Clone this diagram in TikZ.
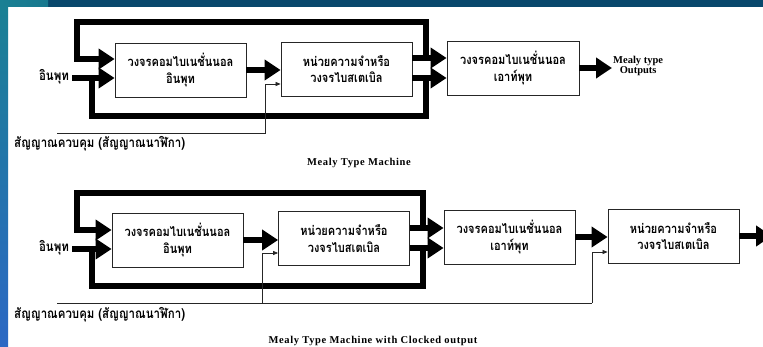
\documentclass[tikz,border=0pt]{standalone}
\usepackage{fontspec}
\setmainfont{Liberation Serif}
\newfontfamily\thaifont[Script=Thai,FakeStretch=0.85]{Loma}
\newfontfamily\capfont[LetterSpace=6]{Liberation Serif}
\usetikzlibrary{arrows.meta,calc}
\definecolor{barnavy}{RGB}{8,72,108}
\definecolor{barteal}{RGB}{26,128,148}
\definecolor{stripeblue}{RGB}{44,104,196}
\tikzset{
  block/.style={draw=black!85, line width=0.8pt, fill=white,
    minimum width=131pt, minimum height=54pt, inner sep=0pt, align=center,
    font=\thaifont\bfseries\fontsize{13}{16.5}\selectfont},
  busline/.style={line width=6pt, line join=miter},
  bus/.style={busline, -{Triangle[length=16pt,width=20pt]}},
  clk/.style={line width=0.7pt, draw=black!85},
  clkarrow/.style={clk, -{Triangle[length=5pt,width=4pt]}},
  thailabel/.style={font=\thaifont\bfseries\fontsize{13.5}{14}\selectfont, inner sep=0pt},
  caption/.style={font=\capfont\bfseries\fontsize{10.5}{11}\selectfont, inner sep=0pt, align=center},
  outlabel/.style={font=\bfseries\fontsize{10.5}{10.5}\selectfont, inner sep=0pt, align=center},
}
\begin{document}
\begin{tikzpicture}[x=1pt,y=-1pt]
\clip (0,0) rectangle (763,347);
% page background with the header bar and the side stripe
\fill[white] (0,0) rectangle (763,347);
\shade[top color=barteal, bottom color=stripeblue] (0,7) rectangle (8,347);
\fill[barnavy] (0,0) rectangle (763,7);
\shade[left color=barteal, right color=barteal!85!barnavy] (0,0) rectangle (48,7);

% ---------------- Mealy machine ----------------
\node[block] (ci) at (180.5,70) {วงจรคอมไบเนชั่นนอล\\อินพุท};
\node[block] (mem) at (346.5,69) {หน่วยความจำหรือ\\วงจรไบสเตเบิล};
\node[block, minimum width=132pt] (co) at (513,68) {วงจรคอมไบเนชั่นนอล\\เอาท์พุท};
\node[thailabel] (in) at (54,77) {อินพุท};
\node[outlabel, anchor=west, inner xsep=1pt] (out) at (612,66) {Mealy type\\Outputs};
\node[thailabel, anchor=west] (clk) at (14,144) {สัญญาณควบคุม (สัญญาณนาฬิกา)};
\node[caption] (cap1) at (359,163) {Mealy Type Machine};

\coordinate (a1) at (426,58);
\coordinate (a2) at (426,22);
\coordinate (a3) at (77,22);
\coordinate (a4) at (77,59);
\coordinate (b1) at (426,78);
\coordinate (b2) at (426,116);
\coordinate (b3) at (92,116);
\coordinate (b4) at (92,78);
\coordinate (k0) at (57,133);
\coordinate (k1) at (265,133);
\coordinate (kt) at (265,84);

\draw[bus] (ci.east) -- (ci.east -| mem.west);
\draw[bus] (mem.east |- a1) -- (co.west |- a1);
\draw[bus] (mem.east |- b1) -- (co.west |- b1);
\draw[bus] (a1) -- (a2) -- (a3) -- (a4) -- (ci.west |- a4);
\draw[bus] (b1) -- (b2) -- (b3) -- (b4) -- (ci.west |- b4);
\draw[busline] ([xshift=3pt]in.east |- b4) -- (b4);
\draw[bus] (co.east) -- (co.east -| out.west);
\draw[clkarrow] (k0) -- (k1) -- (kt) -- (mem.west |- kt);

% ---------------- Mealy machine with clocked output ----------------
\node[block] (ci2) at (177.5,240) {วงจรคอมไบเนชั่นนอล\\อินพุท};
\node[block] (mem2) at (344,238.5) {หน่วยความจำหรือ\\วงจรไบสเตเบิล};
\node[block] (co2) at (509.5,237) {วงจรคอมไบเนชั่นนอล\\เอาท์พุท};
\node[block] (reg2) at (673.5,236) {หน่วยความจำหรือ\\วงจรไบสเตเบิล};
\node[thailabel] (in2) at (54,248) {อินพุท};
\node[thailabel, anchor=west] (clk2) at (14,315) {สัญญาณควบคุม (สัญญาณนาฬิกา)};
\node[caption] (cap2) at (373,341) {Mealy Type Machine with Clocked output};

\coordinate (c1) at (423,228);
\coordinate (c2) at (423,193);
\coordinate (c3) at (77,193);
\coordinate (c4) at (77,230);
\coordinate (d1) at (423,248);
\coordinate (d2) at (423,286);
\coordinate (d3) at (92,286);
\coordinate (d4) at (92,249);
\coordinate (m0) at (57,303);
\coordinate (m1) at (262,303);
\coordinate (m2) at (592,303);
\coordinate (kb1) at (262,253);
\coordinate (kb2) at (592,252);
\coordinate (q) at (772,236);

\draw[bus] (ci2.east) -- (ci2.east -| mem2.west);
\draw[bus] (mem2.east |- c1) -- (co2.west |- c1);
\draw[bus] (mem2.east |- d1) -- (co2.west |- d1);
\draw[bus] (c1) -- (c2) -- (c3) -- (c4) -- (ci2.west |- c4);
\draw[bus] (d1) -- (d2) -- (d3) -- (d4) -- (ci2.west |- d4);
\draw[busline] ([xshift=3pt]in2.east |- d4) -- (d4);
\draw[bus] (co2.east) -- (co2.east -| reg2.west);
\draw[bus] (reg2.east) -- (q);
\draw[clk] (m0) -- (m2);
\draw[clkarrow] (m1) -- (kb1) -- (mem2.west |- kb1);
\draw[clkarrow] (m2) -- (kb2) -- (reg2.west |- kb2);
\end{tikzpicture}
\end{document}
